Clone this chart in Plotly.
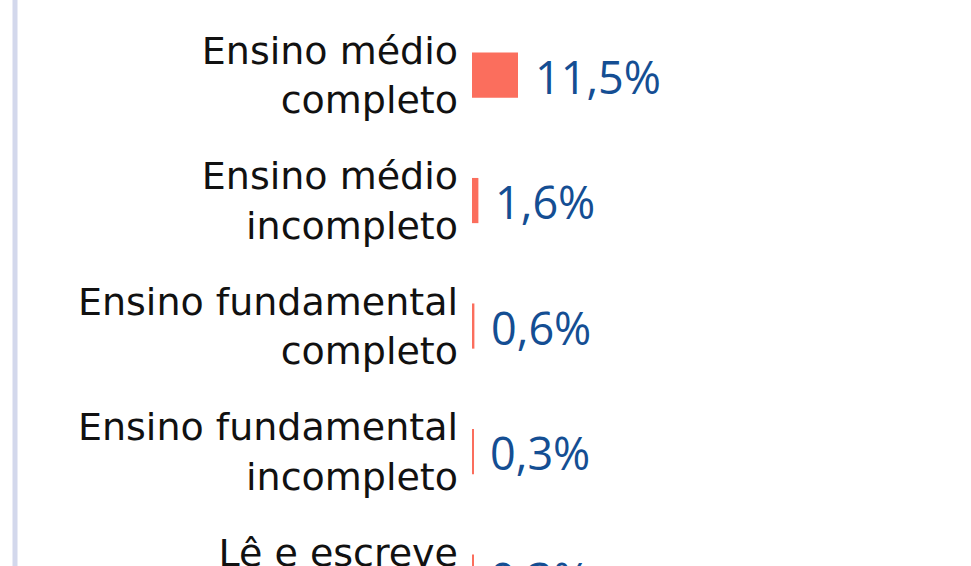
import plotly.graph_objects as go

# escolaridade (recorte do grafico)
categorias = [
    "Ensino médio<br>completo",
    "Ensino médio<br>incompleto",
    "Ensino fundamental<br>completo",
    "Ensino fundamental<br>incompleto",
    "Lê e escreve<br> ",
]
valores = [11.5, 1.6, 0.6, 0.3, 0.3]

W, H = 971, 700
ML, MR = 472, 99
row_px = 125.5
top_idx = -0.598

fig = go.Figure()
fig.add_trace(go.Bar(
    x=valores, y=categorias, orientation="h",
    marker=dict(color="#fb6e5d", line=dict(width=0)),
    hoverinfo="skip",
))

for v, c in zip(valores, categorias):
    fig.add_annotation(
        x=v, y=c, text=f"{v:.1f}%".replace(".", ","),
        xanchor="left", yanchor="middle", xshift=15, yshift=-1,
        showarrow=False,
        font=dict(family="Open Sans, sans-serif", size=45, color="#144e93"),
    )

# linha vertical clara na esquerda
plot_w = W - ML - MR
fig.add_shape(
    type="line", xref="paper", yref="paper",
    x0=(15 - ML) / plot_w, x1=(15 - ML) / plot_w, y0=0, y1=1,
    line=dict(color="#d3d8ec", width=5),
)

fig.update_layout(
    width=W, height=H,
    margin=dict(l=ML, r=MR, t=0, b=0),
    paper_bgcolor="white", plot_bgcolor="white",
    bargap=0.64,
    showlegend=False,
)
fig.update_xaxes(range=[0, 100], visible=False)
fig.update_yaxes(
    type="category",
    range=[top_idx + H / row_px, top_idx],
    showgrid=False, zeroline=False, showline=False,
    ticks="", ticklabelstandoff=13,
    tickfont=dict(family="DejaVu Sans, sans-serif", size=38, color="#111111"),
)

fig.write_html(
    "out.html",
    config={"displayModeBar": False},
    post_script="document.body.style.margin='0';document.body.style.overflow='hidden';",
)
